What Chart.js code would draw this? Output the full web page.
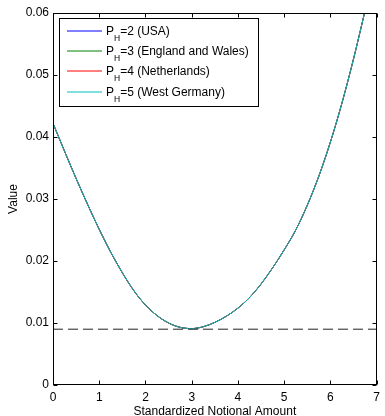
<!DOCTYPE html>
<html lang="en">
<head>
    <meta charset="UTF-8">
    <title>Value vs Standardized Notional Amount</title>
    <script src="https://cdn.jsdelivr.net/npm/chart.js@4.4.1/dist/chart.umd.min.js"></script>
    <style>
        body { margin: 0; background: #fff; }
        #wrap { position: relative; width: 385px; height: 416px; }
    </style>
</head>
<body>
<div id="wrap"><canvas id="valueChart"></canvas></div>

<script>
// Data (the four curves lie on top of each other)
const amounts = [0, 0.25, 0.5, 0.75, 1, 1.25, 1.5, 1.75, 2, 2.25, 2.5, 2.75, 3, 3.25,
                 3.5, 3.75, 4, 4.25, 4.5, 4.75, 5, 5.25, 5.5, 5.75, 6, 6.25, 6.5, 6.75];
const valueUSA = [0.0422, 0.0377, 0.0333, 0.0291, 0.0251, 0.0214, 0.0181, 0.0152, 0.0129,
                  0.0112, 0.0100, 0.0093, 0.0091, 0.0094, 0.0101, 0.0111, 0.0124, 0.0141,
                  0.0163, 0.0189, 0.0218, 0.0250, 0.0290, 0.0337, 0.0392, 0.0455, 0.0526, 0.0604];
const valueEngland = valueUSA.slice();
const valueNetherlands = valueUSA.slice();
const valueWestGermany = valueUSA.slice();

const phValues = [2, 3, 4, 5];
const regions = ['USA', 'England and Wales', 'Netherlands', 'West Germany'];
const lineColors = ['#0000ff', '#008000', '#ff0000', '#00bfbf'];

const minLevel = 0.009;          // dashed horizontal line
const xTicks = [0, 1, 2, 3, 4, 5, 6, 7];
const yTicks = [0, 0.01, 0.02, 0.03, 0.04, 0.05, 0.06];

const FONT = '"Liberation Sans", Arial, Helvetica, sans-serif';

function points(ys) {
    return amounts.map((a, i) => ({ x: a, y: ys[i] }));
}

const seriesValues = [valueUSA, valueEngland, valueNetherlands, valueWestGermany];
const datasets = seriesValues.map((vals, i) => ({
    label: 'PH=' + phValues[i] + ' (' + regions[i] + ')',
    data: points(vals),
    borderColor: lineColors[i],
    borderWidth: 1,
    pointRadius: 0,
    cubicInterpolationMode: 'monotone',
    fill: false,
    order: 3 - i   // cyan ends up on top
}));
datasets.push({
    label: 'min',
    data: [{ x: xTicks[0], y: minLevel }, { x: xTicks[xTicks.length - 1], y: minLevel }],
    borderColor: '#222',
    borderWidth: 1,
    borderDash: [10, 5],
    pointRadius: 0,
    order: -1
});

// box round the plot, inward ticks, and the MATLAB style legend with subscripts
const frameAndLegend = {
    id: 'frameAndLegend',
    afterDraw(chart) {
        const { ctx, chartArea: a, scales } = chart;
        const L = Math.round(a.left) + 0.5, R = Math.round(a.right) - 0.5;
        const T = Math.round(a.top) + 0.5, B = Math.round(a.bottom) - 0.5;
        ctx.save();
        ctx.strokeStyle = '#000';
        ctx.lineWidth = 1;
        ctx.beginPath();
        xTicks.forEach(v => {
            const px = Math.round(scales.x.getPixelForValue(v)) + 0.5;
            ctx.moveTo(px, B); ctx.lineTo(px, B - 4);
            ctx.moveTo(px, T); ctx.lineTo(px, T + 4);
        });
        yTicks.forEach(v => {
            const py = Math.round(scales.y.getPixelForValue(v)) + 0.5;
            ctx.moveTo(L, py); ctx.lineTo(L + 4, py);
            ctx.moveTo(R, py); ctx.lineTo(R - 4, py);
        });
        ctx.stroke();
        ctx.strokeRect(L, T, R - L, B - T);

        // legend
        const box = { x: 59.5, y: 18.5, w: 199, h: 88 };
        ctx.fillStyle = '#fff';
        ctx.fillRect(box.x, box.y, box.w, box.h);
        ctx.strokeRect(box.x, box.y, box.w, box.h);
        phValues.forEach((ph, i) => {
            const rowY = 30.7 + i * 20.3;
            ctx.strokeStyle = lineColors[i];
            ctx.beginPath();
            ctx.moveTo(67, Math.round(rowY));
            ctx.lineTo(102, Math.round(rowY));
            ctx.stroke();

            const base = rowY + 4;
            let tx = 106;
            ctx.fillStyle = '#000';
            ctx.textBaseline = 'alphabetic';
            ctx.textAlign = 'left';
            ctx.font = '12px ' + FONT;
            ctx.fillText('P', tx, base);
            tx += ctx.measureText('P').width;
            ctx.font = '8.5px ' + FONT;
            ctx.fillText('H', tx, base + 6);
            tx += ctx.measureText('H').width;
            ctx.font = '12px ' + FONT;
            ctx.fillText('=' + ph + ' (' + regions[i] + ')', tx, base);
        });
        ctx.restore();
    }
};

const ctx = document.getElementById('valueChart').getContext('2d');
const valueChart = new Chart(ctx, {
    type: 'line',
    data: { datasets: datasets },
    options: {
        responsive: true,
        maintainAspectRatio: false,
        animation: false,
        layout: { padding: { top: 13, right: 2, left: 0, bottom: 0 } },
        plugins: {
            legend: { display: false },
            tooltip: { enabled: false }
        },
        scales: {
            x: {
                type: 'linear',
                min: 0,
                max: 7,
                afterBuildTicks: scale => { scale.ticks = xTicks.map(v => ({ value: v })); },
                afterFit: scale => { scale.height = 31; },
                grid: { display: false, drawTicks: false },
                border: { display: false },
                ticks: { color: '#000', font: { family: FONT, size: 12 }, padding: 5, maxRotation: 0 },
                title: {
                    display: true,
                    text: 'Standardized Notional Amount',
                    color: '#000',
                    font: { family: FONT, size: 12, lineHeight: 1 },
                    padding: { top: 0, bottom: -2 }
                }
            },
            y: {
                min: 0,
                max: 0.06,
                afterBuildTicks: scale => { scale.ticks = yTicks.map(v => ({ value: v })); },
                afterFit: scale => { scale.width = 53; },
                grid: { display: false, drawTicks: false },
                border: { display: false },
                ticks: { color: '#000', font: { family: FONT, size: 12 }, padding: 4 },
                title: {
                    display: true,
                    text: 'Value',
                    color: '#000',
                    font: { family: FONT, size: 12 },
                    padding: { top: 6, bottom: 0 }
                }
            }
        }
    },
    plugins: [frameAndLegend]
});
</script>
</body>
</html>
